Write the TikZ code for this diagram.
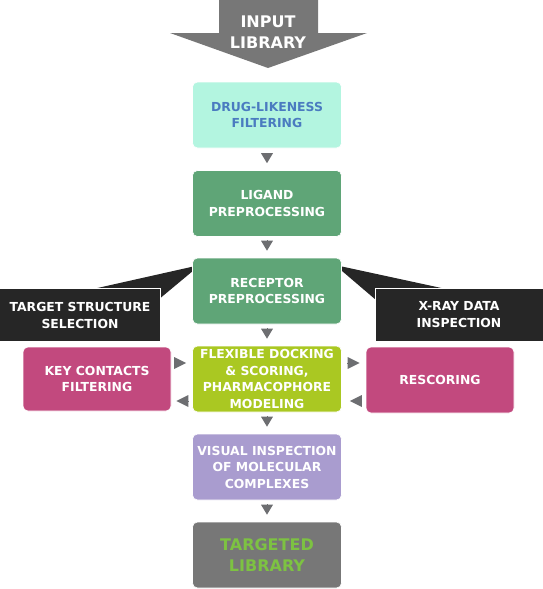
\documentclass[tikz,border=0pt]{standalone}
\usepackage{fontspec}
\setmainfont{DejaVu Sans}
\usetikzlibrary{arrows.meta}

\definecolor{mint}{HTML}{B3F5E0}
\definecolor{mintText}{HTML}{4A7BC0}
\definecolor{stepGreen}{HTML}{5FA577}
\definecolor{lime}{HTML}{AAC822}
\definecolor{berry}{HTML}{C2497E}
\definecolor{lavender}{HTML}{A99CCF}
\definecolor{slate}{HTML}{777777}
\definecolor{ink}{HTML}{262626}
\definecolor{tipGray}{HTML}{6D6E71}
\definecolor{libGreen}{HTML}{7DC242}

\begin{document}
\begin{tikzpicture}[
  x=1pt, y=-1pt,
  box/.style={rectangle, rounded corners=5pt, draw=white, line width=0.6pt, align=center,
    minimum width=149pt, minimum height=66pt, inner sep=2pt, text=white,
    font=\bfseries\fontsize{12.4}{16.5}\selectfont},
  note/.style={rectangle, fill=ink, draw=white, line width=0.6pt, align=center, text=white,
    minimum height=53pt, inner sep=2pt, font=\bfseries\fontsize{12.4}{17}\selectfont},
  down/.style={-{Triangle[length=10pt, width=12pt]}, draw=tipGray, fill=tipGray,
    line width=0pt, shorten <=5pt, shorten >=7pt},
  side/.style={-{Triangle[length=12pt, width=12pt]}, draw=tipGray, fill=tipGray, line width=0pt}
]
  \useasboundingbox (0,0) rectangle (542,589);

  % input arrow
  \fill[slate] (219,0) -- (318,0) -- (318,33) -- (367,33) -- (268,68) -- (170,33) -- (219,33) -- cycle;
  \node[text=white, align=center, font=\bfseries\fontsize{16}{21.5}\selectfont] (input) at (268,32) {INPUT\\LIBRARY};

  % callout wedges
  \fill[ink] (93,289) -- (200,265) -- (158,300) -- cycle;
  \fill[ink] (446,289) -- (335,265) -- (376,300) -- cycle;

  \node[box, fill=mint, text=mintText] (drug) at (267,115) {DRUG-LIKENESS\\FILTERING};
  \node[box, fill=stepGreen] (lig) at (267,203.5) {LIGAND\\PREPROCESSING};
  \node[box, fill=stepGreen] (rec) at (267,291) {RECEPTOR\\PREPROCESSING};
  \node[box, fill=lime] (dock) at (267,379) {FLEXIBLE DOCKING\\\& SCORING,\\PHARMACOPHORE\\MODELING};
  \node[box, fill=lavender] (vis) at (267,467) {VISUAL INSPECTION\\OF MOLECULAR\\COMPLEXES};
  \node[box, fill=slate, text=libGreen, font=\bfseries\fontsize{16}{21.5}\selectfont] (lib) at (267,555) {TARGETED\\LIBRARY};

  \node[box, fill=berry, minimum width=148pt, minimum height=64pt] (key) at (97,379) {KEY CONTACTS\\FILTERING};
  \node[box, fill=berry, minimum width=148pt, minimum height=66pt] (resc) at (440,380) {RESCORING};

  \node[note, minimum width=161pt] (tss) at (80,315) {TARGET STRUCTURE\\SELECTION};
  \node[note, minimum width=168pt] (xray) at (459,315) {X-RAY DATA\\INSPECTION};

  \draw[down] (drug) -- (lig);
  \draw[down] (lig) -- (rec);
  \draw[down] (rec) -- (dock);
  \draw[down] (dock) -- (vis);
  \draw[down] (vis) -- (lib);

  \draw[side, shorten <=4pt, shorten >=6pt] ([yshift=16pt]key.east) -- ([yshift=16pt]key.east -| dock.west);
  \draw[side, shorten <=5pt, shorten >=5pt] ([yshift=-22pt]dock.west) -- ([yshift=-22pt]dock.west -| key.east);
  \draw[side, shorten <=7pt, shorten >=6pt] ([yshift=16pt]dock.east) -- ([yshift=16pt]dock.east -| resc.west);
  \draw[side, shorten <=5pt, shorten >=8pt] ([yshift=-22pt]dock.east -| resc.west) -- ([yshift=-22pt]dock.east);
\end{tikzpicture}
\end{document}
